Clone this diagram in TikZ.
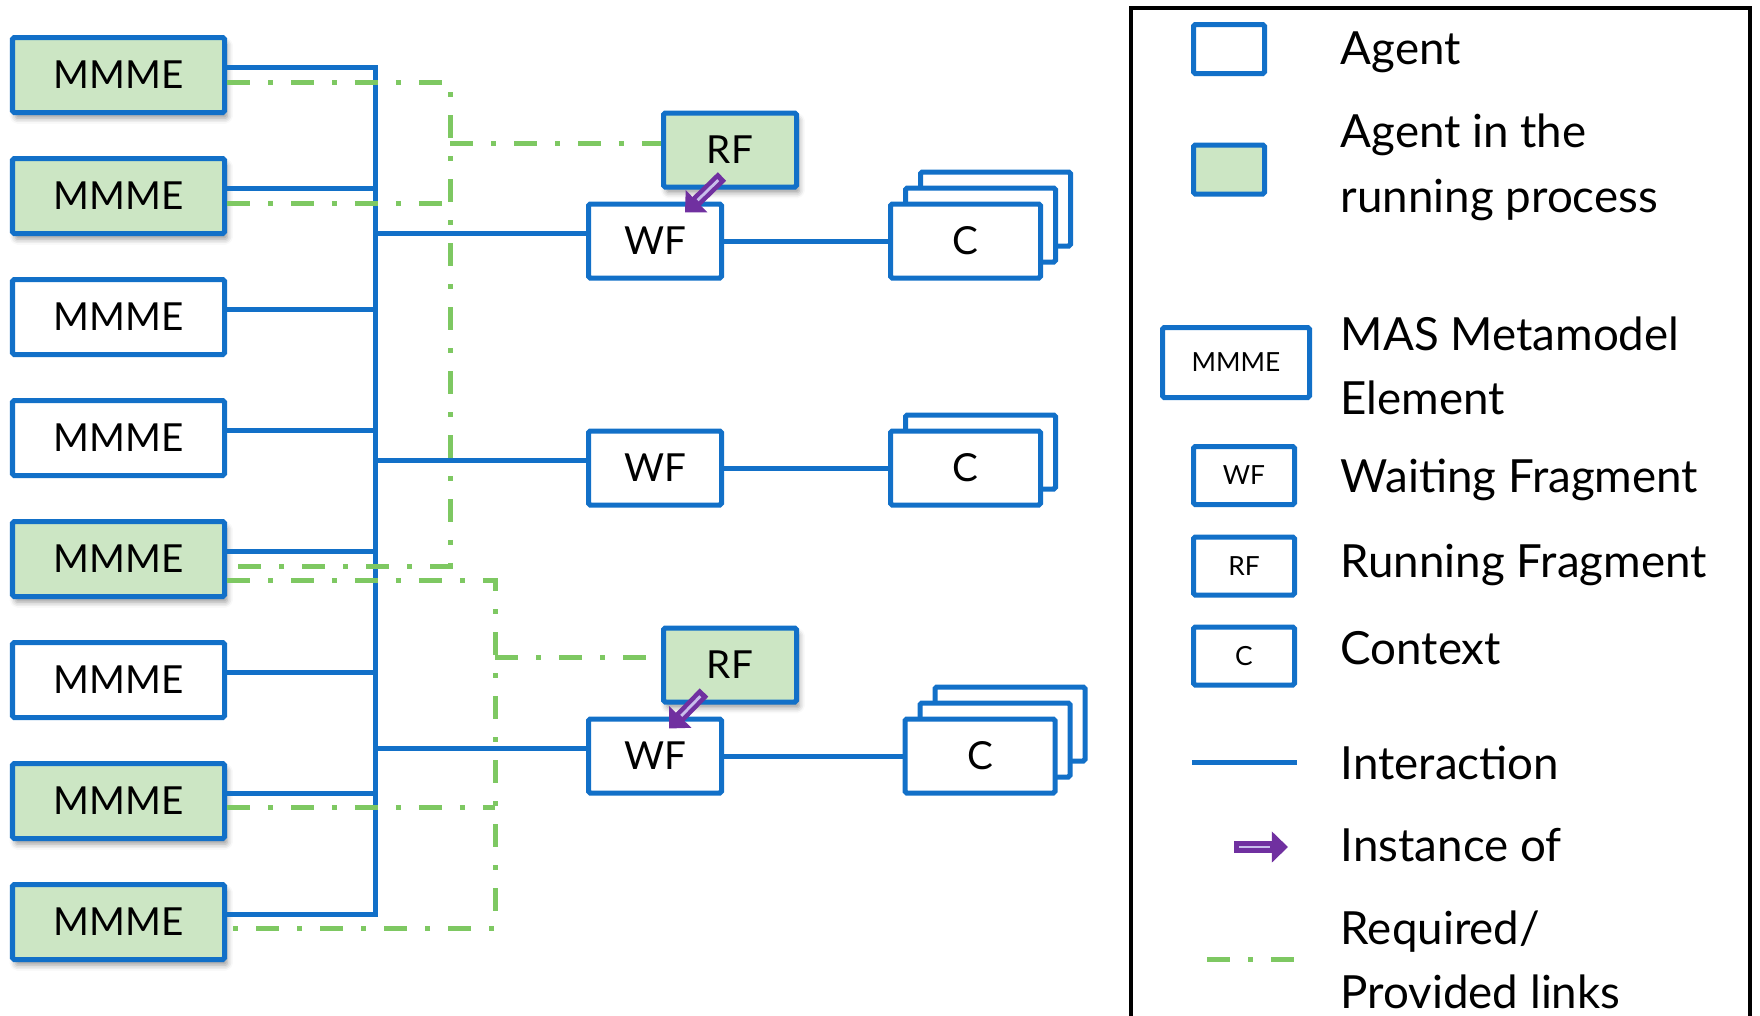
\documentclass[tikz,border=0pt]{standalone}
\usepackage{fontspec}
\setmainfont{Lato}
\usetikzlibrary{arrows.meta, positioning, shadows.blur}

\definecolor{agentblue}{RGB}{18,112,200}
\definecolor{runfill}{RGB}{204,230,196}
\definecolor{linkgreen}{RGB}{126,200,98}
\definecolor{instpurple}{RGB}{112,48,160}
\definecolor{instlight}{RGB}{200,190,235}

\begin{document}
\begin{tikzpicture}[
    node distance=0.41cm,
    agent/.style={rectangle, draw=agentblue, line width=0.05cm, fill=white, rounded corners=0.5pt, font=\fontsize{11}{13}\selectfont},
    mmme/.style={agent, minimum width=2.12cm, minimum height=0.75cm},
    frag/.style={agent, minimum width=1.33cm, minimum height=0.74cm},
    ctx/.style={agent, minimum width=1.50cm, minimum height=0.74cm},
    running/.style={fill=runfill, blur shadow={shadow xshift=0.8pt, shadow yshift=-1.6pt, shadow blur radius=1.6pt}},
    inter/.style={draw=agentblue, line width=0.05cm},
    reqprov/.style={draw=linkgreen, line width=0.05cm, dash pattern=on 0.23cm off 0.18cm on 0.05cm off 0.18cm},
    inst/.style={draw=instpurple, line width=3.4pt, -{Triangle[length=4.6pt, width=8.6pt]}},
    instline/.style={draw=instlight, line width=0.8pt, shorten >=5pt, shorten <=1.5pt},
    legbox/.style={agent, font=\fontsize{7.5}{9}\selectfont},
    legtext/.style={anchor=west, align=left, inner sep=0pt, font=\fontsize{13}{18.4}\selectfont}
]
\useasboundingbox (0,0) rectangle (17.6,-10.15);
\clip (0,0) rectangle (17.6,-10.15);

% MAS metamodel elements
\node[mmme, running] (m1) at (1.185,-0.75) {MMME};
\node[mmme, running, below=of m1] (m2) {MMME};
\node[mmme, below=of m2] (m3) {MMME};
\node[mmme, below=of m3] (m4) {MMME};
\node[mmme, running, below=of m4] (m5) {MMME};
\node[mmme, below=of m5] (m6) {MMME};
\node[mmme, running, below=of m6] (m7) {MMME};
\node[mmme, running, below=of m7] (m8) {MMME};

% fragments and contexts
\node[frag] (wf1) at (6.55,-2.41) {WF};
\node[frag, running] (rf1) at (7.30,-1.50) {RF};
\node[ctx] (c1c) at (9.955,-2.09) {};
\node[ctx] (c1b) at (9.805,-2.25) {};
\node[ctx] (c1) at (9.655,-2.41) {C};

\node[frag] (wf2) at (6.55,-4.68) {WF};
\node[ctx] (c2b) at (9.805,-4.52) {};
\node[ctx] (c2) at (9.655,-4.68) {C};

\node[frag] (wf3) at (6.55,-7.56) {WF};
\node[frag, running] (rf2) at (7.30,-6.65) {RF};
\node[ctx] (c3c) at (10.10,-7.24) {};
\node[ctx] (c3b) at (9.95,-7.40) {};
\node[ctx] (c3) at (9.80,-7.56) {C};

% interaction bus
\coordinate (bus) at (3.75,0);
\draw[inter] ([yshift=0.08cm]m1.east) -| ([yshift=0.08cm]m8.east -| bus) -- ([yshift=0.08cm]m8.east);
\draw[inter] ([yshift=0.08cm]m2.east) -- ([yshift=0.08cm]m2.east -| bus);
\draw[inter] ([yshift=0.08cm]m3.east) -- ([yshift=0.08cm]m3.east -| bus);
\draw[inter] ([yshift=0.08cm]m4.east) -- ([yshift=0.08cm]m4.east -| bus);
\draw[inter] ([yshift=0.08cm]m5.east) -- ([yshift=0.08cm]m5.east -| bus);
\draw[inter] ([yshift=0.08cm]m6.east) -- ([yshift=0.08cm]m6.east -| bus);
\draw[inter] ([yshift=0.08cm]m7.east) -- ([yshift=0.08cm]m7.east -| bus);
\draw[inter] ([yshift=0.08cm]wf1.west -| bus) -- ([yshift=0.08cm]wf1.west);
\draw[inter] ([yshift=0.08cm]wf2.west -| bus) -- ([yshift=0.08cm]wf2.west);
\draw[inter] ([yshift=0.08cm]wf3.west -| bus) -- ([yshift=0.08cm]wf3.west);
\draw[inter] (wf1) -- (c1);
\draw[inter] (wf2) -- (c2);
\draw[inter] (wf3) -- (c3);

% required / provided links
\coordinate (rp1) at (4.50,0);
\coordinate (rp2) at (4.95,0);
\draw[reqprov] ([yshift=-0.07cm]m1.east) -| ([yshift=-0.07cm]m5.east -| rp1) -- ([yshift=-0.07cm]m5.east);
\draw[reqprov] ([yshift=-0.07cm]m2.east) -- ([yshift=-0.07cm]m2.east -| rp1);
\draw[reqprov] ([yshift=0.07cm]rf1.west -| rp1) -- ([yshift=0.07cm]rf1.west);
\draw[reqprov] ([yshift=-0.21cm]m5.east) -| ([yshift=-0.06cm]m8.east -| rp2) -- ([yshift=-0.06cm]m8.east);
\draw[reqprov] ([yshift=-0.06cm]m7.east) -- ([yshift=-0.06cm]m7.east -| rp2);
\draw[reqprov] ([yshift=0.08cm]rf2.west -| rp2) -- ([yshift=0.08cm]rf2.west);

% instance of
\coordinate (i1a) at ([xshift=-0.08cm,yshift=0.13cm]rf1.south);
\coordinate (i1b) at ([xshift=0.30cm,yshift=-0.11cm]wf1.north);
\coordinate (i2a) at ([xshift=-0.26cm,yshift=0.12cm]rf2.south);
\coordinate (i2b) at ([xshift=0.14cm,yshift=-0.12cm]wf3.north);
\draw[inst] (i1a) -- (i1b);
\draw[instline] (i1a) -- (i1b);
\draw[inst] (i2a) -- (i2b);
\draw[instline] (i2a) -- (i2b);

% legend
\draw[black, line width=0.04cm] (11.31,-0.08) rectangle (17.50,-10.6);
\node[agent, minimum width=0.71cm, minimum height=0.49cm] (lagent) at (12.29,-0.49) {};
\node[agent, fill=runfill, minimum width=0.71cm, minimum height=0.49cm] (lrun) at (12.29,-1.695) {};
\node[legbox, minimum width=1.47cm, minimum height=0.70cm] (lmmme) at (12.36,-3.625) {MMME};
\node[legbox, minimum width=1.01cm, minimum height=0.58cm] (lwf) at (12.44,-4.755) {WF};
\node[legbox, minimum width=1.01cm, minimum height=0.58cm] (lrf) at (12.44,-5.66) {RF};
\node[legbox, minimum width=1.01cm, minimum height=0.58cm] (lctx) at (12.44,-6.56) {C};
\coordinate (lint1) at (11.92,-7.62);
\coordinate (lint2) at (12.97,-7.62);
\draw[inter] (lint1) -- (lint2);
\coordinate (linst1) at (12.34,-8.47);
\coordinate (linst2) at (12.88,-8.47);
\draw[inst] (linst1) -- (linst2);
\draw[instline] (linst1) -- (linst2);
\coordinate (lreq1) at (12.07,-9.59);
\coordinate (lreq2) at (12.97,-9.59);
\draw[reqprov] (lreq1) -- (lreq2);

\node[legtext] (tagent) at (13.40,-0.52) {Agent};
\node[legtext] (trun) at (13.40,-1.675) {Agent in the\\running process};
\node[legtext] (tmmme) at (13.40,-3.66) {MAS Metamodel\\Element};
\node[legtext] (twf) at (13.40,-4.80) {Waiting Fragment};
\node[legtext] (trf) at (13.40,-5.65) {Running Fragment};
\node[legtext] (tctx) at (13.40,-6.48) {Context};
\node[legtext] (tint) at (13.40,-7.63) {Interaction};
\node[legtext] (tinst) at (13.40,-8.45) {Instance of};
\node[legtext] (treq) at (13.40,-9.60) {Required/\\Provided links};
\end{tikzpicture}
\end{document}
